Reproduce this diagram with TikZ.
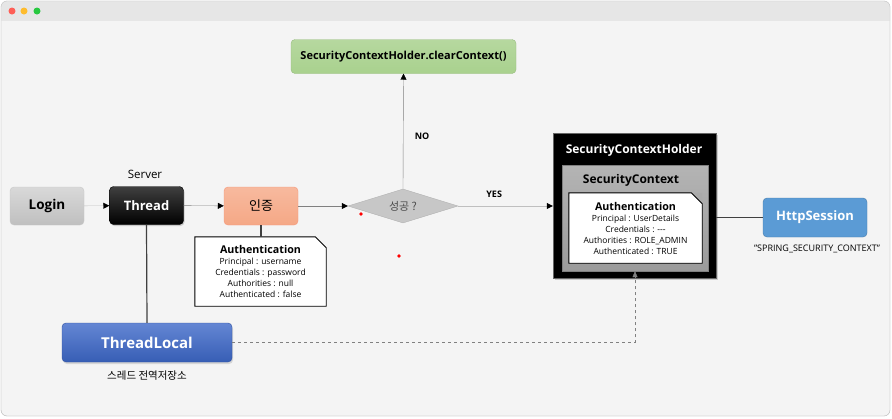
\documentclass[tikz,border=0pt]{standalone}
\usepackage{fontspec}
\setmainfont{Open Sans}
\newfontfamily\krfont{Noto Sans CJK KR}
\usetikzlibrary{arrows,arrows.meta,shapes,shadows,calc}
\definecolor{barcolor}{RGB}{230,230,230}
\definecolor{bgcolor}{RGB}{244,244,244}
\definecolor{framecolor}{RGB}{200,200,200}
\definecolor{dotred}{RGB}{254,95,87}
\definecolor{dotyellow}{RGB}{254,188,46}
\definecolor{dotgreen}{RGB}{40,200,64}
\definecolor{greencolor}{RGB}{169,209,142}
\definecolor{salmoncolor}{RGB}{245,168,134}
\definecolor{bluecolor}{RGB}{91,155,213}
\definecolor{royalcolor}{RGB}{61,104,201}
\definecolor{graycolor}{RGB}{155,155,155}
\definecolor{linecolor}{RGB}{128,128,128}
\colorlet{Scolor}{graycolor}

\begin{document}
\begin{tikzpicture}[x=1pt,y=-1pt,>={Triangle[black,length=6pt,width=6pt]}]
\useasboundingbox (0,0) rectangle (892,418);

% window
\draw[framecolor,fill=bgcolor,rounded corners=6pt] (1,1) rectangle (890,416);
\begin{scope}
\clip[rounded corners=6pt] (1,1) rectangle (890,416);
\fill[barcolor] (0,0) rectangle (892,21);
\end{scope}
\draw[framecolor,rounded corners=6pt] (1,1) rectangle (890,416);
\foreach \x/\c in {12/dotred,24/dotyellow,37/dotgreen}
  \fill[\c] (\x,11) circle (3.5pt);

\begin{scope}[every node/.style={rounded corners=4pt,minimum width=74,minimum height=38,inner sep=0pt,font=\bfseries\fontsize{13.5}{15}\selectfont}]
\node[top color=black!15,bottom color=black!25,draw=black!22] (login) at (47,206) {Login};
\node[top color=black!75,bottom color=black,draw=black,text=white,font=\bfseries\fontsize{13}{15}\selectfont,drop shadow={opacity=0.35,shadow xshift=1pt,shadow yshift=-1.5pt}] (thread) at (146.5,205.5) {Thread};
\node[top color=salmoncolor!80,bottom color=salmoncolor,draw=salmoncolor!90!red,font=\krfont\fontsize{13}{15}\selectfont] (auth) at (261,206) {인증};
\node[draw=greencolor!90!black,top color=greencolor!85,bottom color=greencolor,minimum width=225,minimum height=34,font=\bfseries\fontsize{11}{13}\selectfont] (clear) at (403.5,56.5) {SecurityContextHolder.clearContext()};
\node[draw=bluecolor!80!black,fill=bluecolor,text=white,minimum width=104,minimum height=39,font=\bfseries\fontsize{13}{15}\selectfont] (http) at (815,217.5) {HttpSession};
\node[top color=royalcolor!80,bottom color=royalcolor!90!black,draw=royalcolor!80!black,text=white,minimum width=170,minimum height=39,font=\bfseries\fontsize{15}{17}\selectfont,drop shadow={opacity=0.25,shadow xshift=1pt,shadow yshift=-2pt}] (tlocal) at (147,342.5) {ThreadLocal};
\end{scope}

\node[diamond,aspect=3.2,inner sep=0pt,minimum width=110,minimum height=34,fill=black!22,draw=black!30,text=black!70,font=\krfont\fontsize{11}{13}\selectfont] (ok) at (403,206) {성공 ?};

% holder
\node[draw=black!60,fill=black,minimum width=163,minimum height=145,drop shadow={opacity=0.35,shadow xshift=1.5pt,shadow yshift=-2pt}] (sch) at (634.5,205.5) {};
\node[draw=black!50,top color=Scolor!75,bottom color=Scolor,minimum width=146,minimum height=106] (sc) at (635,218) {};

\begin{scope}[every node/.style={inner sep=0pt,font=\bfseries\fontsize{12}{14}\selectfont}]
\node[text=white] (schtitle) at (634,150) {SecurityContextHolder};
\node (sctitle) at (631,180) {SecurityContext};
\end{scope}

\begin{scope}[every node/.style={fill=white,inner sep=0pt,align=center,font=\fontsize{8.5}{11}\selectfont}]
\node[minimum width=131,minimum height=69] (authA) at (260.5,271.5) {{\bfseries\fontsize{10.7}{12}\selectfont Authentication}\\Principal : username\\Credentials : password\\Authorities : null\\Authenticated : false};
\node[minimum width=133,minimum height=70] (authB) at (635.5,228) {{\bfseries\fontsize{10.7}{12}\selectfont Authentication}\\Principal : UserDetails\\Credentials : -{}-{}-\\Authorities : ROLE\_ADMIN\\Authenticated : TRUE};
\end{scope}
\foreach \n/\c in {authA/bgcolor,authB/Scolor!85} {
  \fill[\c] ([xshift=-11pt]\n.north east) -- (\n.north east) -- ([yshift=-11pt]\n.north east) -- cycle;
  \draw[line width=0.9pt] (\n.north west) -- ([xshift=-11pt]\n.north east) -- ([yshift=-11pt]\n.north east) -- (\n.south east) -- (\n.south west) -- cycle;
}

\begin{scope}[every node/.style={inner sep=0pt}]
\node[font=\fontsize{11.5}{13}\selectfont] (server) at (145,174) {Server};
\node[font=\fontsize{9}{11}\selectfont] (spring) at (817,249) {"SPRING\_SECURITY\_CONTEXT"};
\node[font=\krfont\fontsize{10.5}{12}\selectfont] (storage) at (147,376) {스레드 전역저장소};
\end{scope}

% connectors
\draw[black!25,->] (login) -- (thread);
\draw[linecolor,->] (thread) -- (auth);
\draw[linecolor,->] (auth) -- (ok);
\draw[linecolor,->] (ok.north) -- node[pos=0.46,right=8pt,text=black,font=\bfseries\fontsize{9}{11}\selectfont] {NO} (clear.south);
\draw[black!25,->] (ok.east) -- node[pos=0.38,above=5pt,text=black,font=\bfseries\fontsize{9}{11}\selectfont] {YES} (ok.east -| sch.west);
\draw[black!75,line width=1.2pt] (thread.south) -- (tlocal.north);
\draw[black!75,line width=1.2pt] (auth.south) -- (authA.north -| auth.south);
\draw[black!75,line width=1.2pt] (http.west -| sch.east) -- (http.west);
\draw[linecolor,dashed,->,>={Triangle[linecolor,length=6pt,width=5pt]}] (tlocal.east) -| (sc.south);

\fill[red] (361,214) circle (1.8pt);
\fill[red] (399,256) circle (1.8pt);
\end{tikzpicture}
\end{document}
